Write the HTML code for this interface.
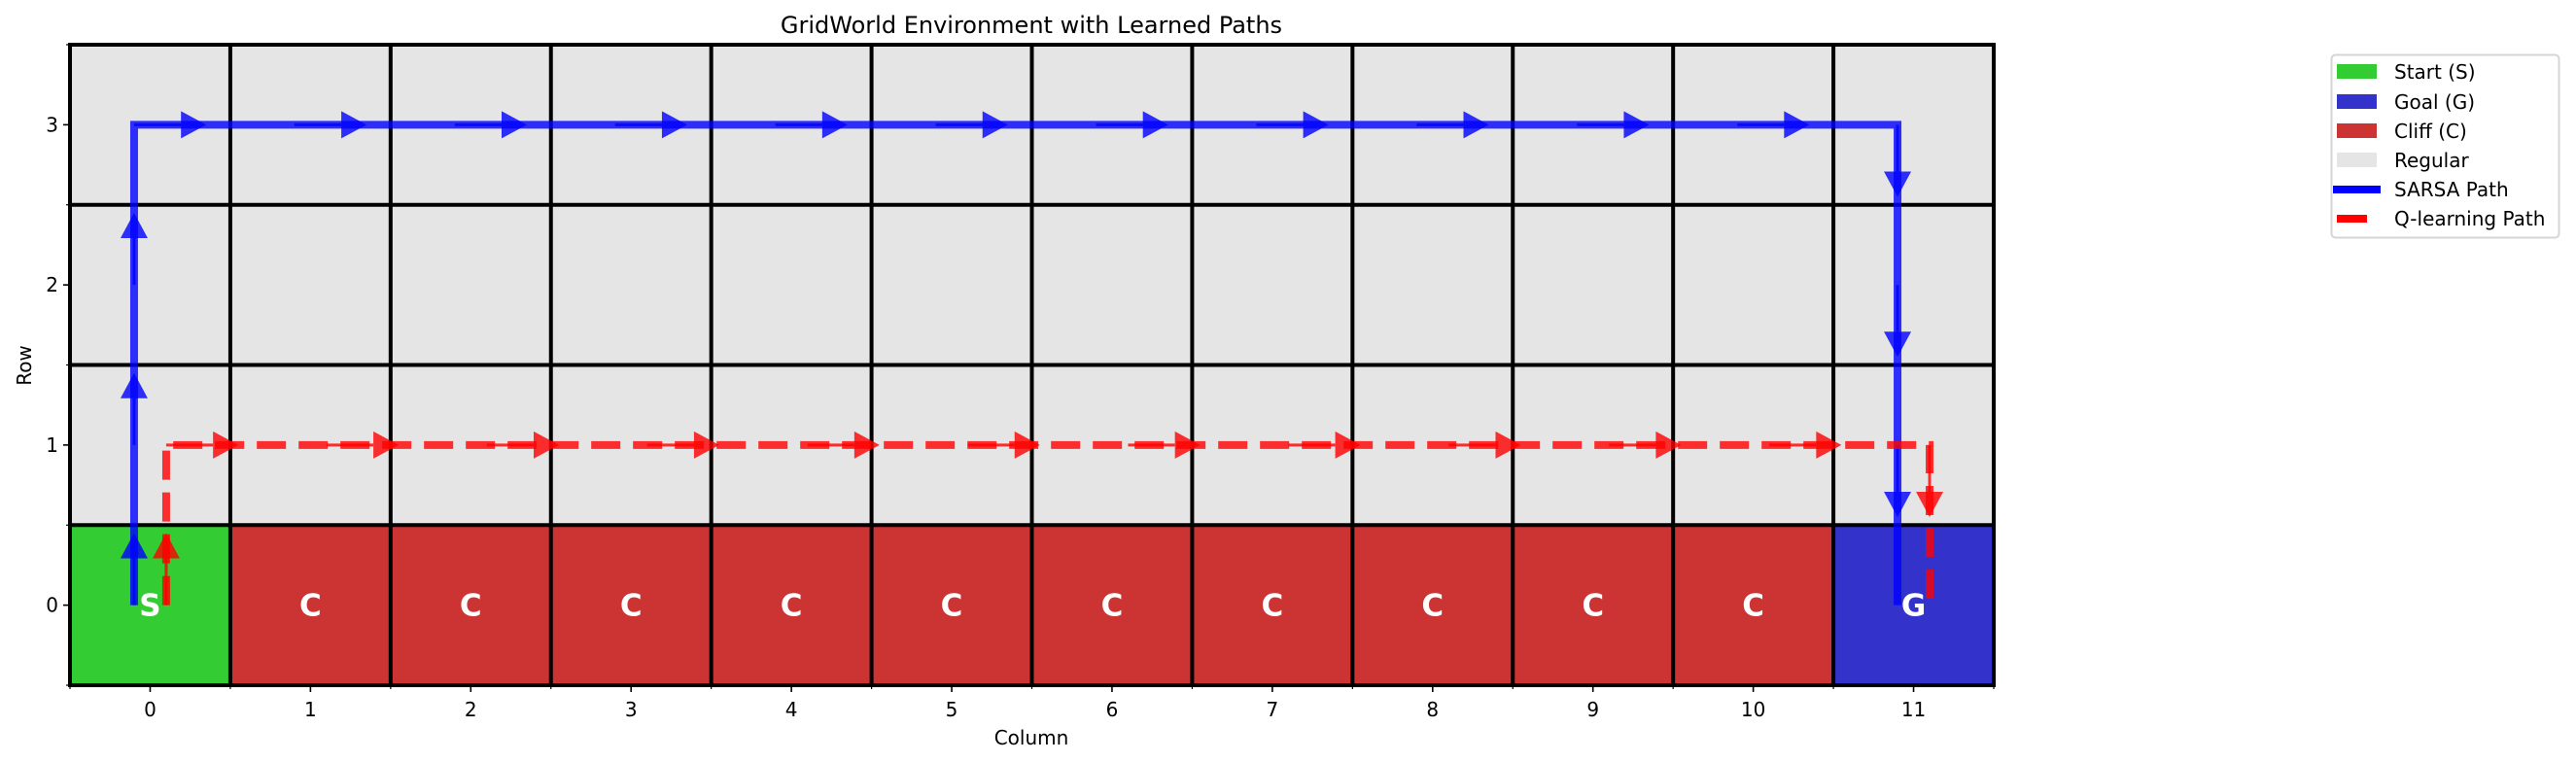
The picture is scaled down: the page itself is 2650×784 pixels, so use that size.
<!DOCTYPE html>
<html><head><meta charset="utf-8"><style>
html,body{margin:0;padding:0;background:#fff;}
svg{display:block;font-family:"DejaVu Sans","Liberation Sans",sans-serif;}
</style></head><body>
<svg id="chart" width="2650" height="784" viewBox="0 0 2650 784">
<g id="cells"></g><g id="grid"></g><g id="labels"></g><g id="paths"></g><g id="axes"></g>
<text x="1061" y="34" text-anchor="middle" font-size="24">GridWorld Environment with Learned Paths</text>
<text x="1061" y="766" text-anchor="middle" font-size="20">Column</text>
<text x="32" y="376" text-anchor="middle" font-size="20" transform="rotate(-90 32 376)">Row</text>
<g>
<rect x="2398.5" y="56.5" width="234" height="188" rx="4" fill="#fff" stroke="#d5d5d5" stroke-width="2"/>
<g><rect x="2404" y="66" width="41" height="15" fill="#33cc33"/><text x="2463" y="81" font-size="20">Start (S)</text></g>
<g><rect x="2404" y="97" width="41" height="15" fill="#3333cc"/><text x="2463" y="112" font-size="20">Goal (G)</text></g>
<g><rect x="2404" y="127" width="41" height="15" fill="#cc3333"/><text x="2463" y="142" font-size="20">Cliff (C)</text></g>
<g><rect x="2404" y="157" width="41" height="15" fill="#e5e5e5"/><text x="2463" y="172" font-size="20">Regular</text></g>
<g><rect x="2400" y="191" width="49" height="8" fill="#0000ff"/><text x="2463" y="202" font-size="20">SARSA Path</text></g>
<g><rect x="2404" y="221" width="31" height="8" fill="#ff0000"/><text x="2463" y="232" font-size="20">Q-learning Path</text></g>
</g>
</svg>
<script>
const nCols = 12;
const nRows = 4;
const cellTypes = ["S","C","C","C","C","C","C","C","C","C","C","G"]; // row 0
const sarsaPathX = [0,0,0,0,1,2,3,4,5,6,7,8,9,10,11,11,11,11];
const sarsaPathY = [0,1,2,3,3,3,3,3,3,3,3,3,3,3,3,2,1,0];
const qPathX = [0,0,1,2,3,4,5,6,7,8,9,10,11,11];
const qPathY = [0,1,1,1,1,1,1,1,1,1,1,1,1,0];
const xTicks = ["0","1","2","3","4","5","6","7","8","9","10","11"];
const yTicks = ["0","1","2","3"];

const L=72,R=2051,T=46,B=705;
const cw=(R-L)/nCols, ch=(B-T)/nRows;
const sx=c=>L+(c+0.5)*cw;
const sy=r=>B-(r+0.5)*ch;
const NS="http://www.w3.org/2000/svg";
function mk(tag,attrs,parent){const e=document.createElementNS(NS,tag);for(const k in attrs)e.setAttribute(k,attrs[k]);parent.appendChild(e);return e;}
const cells=document.getElementById('cells'),grid=document.getElementById('grid'),labels=document.getElementById('labels'),paths=document.getElementById('paths'),axes=document.getElementById('axes');
const colors={S:"#33cc33",C:"#cc3333",G:"#3333cc",R:"#e5e5e5"};
for(let r=0;r<nRows;r++)for(let c=0;c<nCols;c++){
  const t=r===0?cellTypes[c]:"R";
  const e=mk('rect',{x:L+c*cw,y:B-(r+1)*ch,width:cw,height:ch,fill:colors[t]},cells);
  
  
  if(t!=="R"){
    const tx=mk('text',{x:sx(c),y:sy(r)+11,'text-anchor':'middle','font-size':31,'font-weight':'bold',fill:'#fff'},labels);
    tx.textContent=t;
    
    
  }
}
for(let c=0;c<=nCols;c++){const e=mk('line',{x1:L+c*cw,x2:L+c*cw,y1:T,y2:B,stroke:'#000','stroke-width':4},grid);}
for(let r=0;r<=nRows;r++){const e=mk('line',{x1:L,x2:R,y1:B-r*ch,y2:B-r*ch,stroke:'#000','stroke-width':4},grid);}

function drawPath(px,py,off,color,dash,name){
  const pts=px.map((x,i)=>[sx(x+off),sy(py[i])]);
  const pl=mk('polyline',{points:pts.map(p=>p.join(',')).join(' '),fill:'none',stroke:color,'stroke-opacity':0.8,'stroke-width':8,'stroke-linejoin':'miter'},paths);
  if(dash)pl.setAttribute('stroke-dasharray',dash);
  
  
  for(let i=0;i<px.length-1;i++){
    const x0=sx(px[i]+off),y0=sy(py[i]);
    const dx=(px[i+1]-px[i])*cw*0.45, dy=-(py[i+1]-py[i])*ch*0.45;
    const len=Math.hypot(dx,dy);if(!len)continue;
    const ux=dx/len,uy=dy/len,hl=26,hw=14;
    const tx=x0+dx,ty=y0+dy,bx=tx-ux*hl,by=ty-uy*hl;
    const g=mk('g',{opacity:0.8},paths);
    
    
    mk('line',{x1:x0,y1:y0,x2:bx,y2:by,stroke:color,'stroke-width':3},g);
    mk('polygon',{points:`${tx},${ty} ${bx-uy*hw},${by+ux*hw} ${bx+uy*hw},${by-ux*hw}`,fill:color},g);
  }
}
drawPath(sarsaPathX,sarsaPathY,-0.1,'#0000ff',null,'sarsa-path');
drawPath(qPathX,qPathY,0.1,'#ff0000','30 13','qlearning-path');

mk('rect',{x:L,y:T,width:R-L,height:B-T,fill:'none',stroke:'#000','stroke-width':4},axes);
xTicks.forEach((t,i)=>{
  mk('line',{x1:sx(i),x2:sx(i),y1:B,y2:B+7,stroke:'#000','stroke-width':1.6},axes);
  const e=mk('text',{x:sx(i),y:737,'text-anchor':'middle','font-size':20},axes);e.textContent=t;
  
});
for(let c=0;c<=nCols;c++)mk('line',{x1:L+c*cw,x2:L+c*cw,y1:B,y2:B+4,stroke:'#000','stroke-width':1.2},axes);
yTicks.forEach((t,i)=>{
  mk('line',{x1:L-7,x2:L,y1:sy(i),y2:sy(i),stroke:'#000','stroke-width':1.6},axes);
  const e=mk('text',{x:L-12,y:sy(i)+7,'text-anchor':'end','font-size':20},axes);e.textContent=t;
  
});
for(let r=0;r<=nRows;r++)mk('line',{x1:L-4,x2:L,y1:B-r*ch,y2:B-r*ch,stroke:'#000','stroke-width':1.2},axes);
</script>
</body></html>
